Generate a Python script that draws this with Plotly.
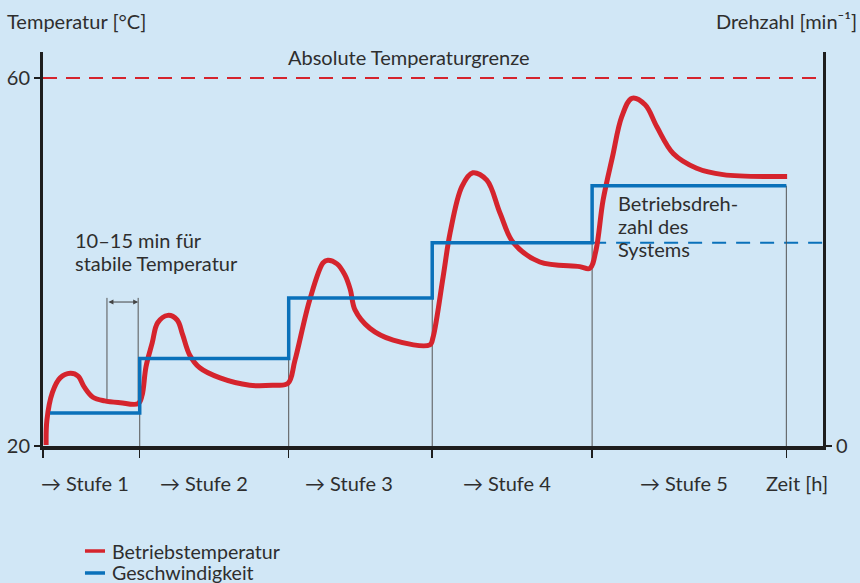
import plotly.graph_objects as go

# --- data (time in arbitrary units 0..100, temperature in °C, speed in arbitrary units) ---
temp_t = [0.4, 0.5, 1.2, 2.2, 3.5, 4.5, 5.3, 6.4, 7.9, 9.9, 12.2,
          12.7, 13.2, 14.0, 14.7, 16.0, 17.2, 17.9, 18.8, 20.1, 22.7, 26.5, 29.5, 31.4,
          32.3, 34.2, 35.9, 36.5, 37.7, 38.7, 39.4, 40.0, 41.9, 44.9, 49.6,
          50.0, 51.3, 52.2, 53.7, 55.1, 56.9, 58.6, 60.3, 63.7, 68.8, 70.1,
          70.9, 71.8, 73.0, 74.2, 75.5, 77.2, 78.7, 80.8, 83.8, 87.2, 95.4]
temp_v = [20.1, 22.8, 25.8, 27.4, 27.9, 27.6, 26.4, 25.3, 24.9, 24.7, 24.6,
          25.5, 28.6, 31.2, 33.4, 34.2, 33.7, 32.1, 29.9, 28.5, 27.4, 26.6, 26.6, 26.8,
          29.3, 35.9, 39.9, 40.2, 39.8, 38.6, 37.0, 34.8, 32.8, 31.5, 31.0,
          31.8, 38.4, 43.2, 48.2, 49.7, 48.9, 45.3, 42.1, 40.0, 39.5, 39.3,
          41.3, 46.7, 51.4, 55.8, 57.8, 57.1, 54.7, 51.8, 50.2, 49.5, 49.3]

stage_t = [0.9, 12.4, 31.5, 49.9, 70.4, 95.3]       # stage start times, last = end
speed_v = [3.6, 9.5, 16.1, 22.1, 28.3]             # speed level per stage
stage_labels = ["→ Stufe 1", "→ Stufe 2", "→ Stufe 3", "→ Stufe 4", "→ Stufe 5"]
stage_label_t = [5.4, 20.6, 39.2, 59.5, 82.2]
series_names = ["Betriebstemperatur", "Geschwindigkeit"]

temp_limit = 60
operating_speed = 22.1

RED = "#d5242d"
BLUE = "#0a71ba"
BG = "#d1e7f6"
TXT = "#2e2e2e"
FONT = "Lato"
FS = 20

fig = go.Figure()

fig.add_trace(go.Scatter(
    x=temp_t, y=temp_v, mode="lines", name=series_names[0],
    line=dict(color=RED, width=5, shape="spline", smoothing=1.0),
))
fig.add_trace(go.Scatter(
    x=stage_t, y=speed_v + [speed_v[-1]], mode="lines", name=series_names[1],
    line=dict(color=BLUE, width=3.5, shape="hv"), yaxis="y2",
))

shapes = []
# temperature limit
shapes.append(dict(type="line", xref="paper", x0=0, x1=1, yref="y", y0=temp_limit, y1=temp_limit,
                   line=dict(color=RED, width=2, dash="14px,9px"), layer="below"))
# operating speed dashed line
shapes.append(dict(type="line", xref="x", x0=stage_t[4], x1=100, yref="y2",
                   y0=operating_speed, y1=operating_speed,
                   line=dict(color=BLUE, width=2, dash="14px,10px"), layer="below"))
# thin vertical lines at stage boundaries
for i in range(1, len(stage_t)):
    shapes.append(dict(type="line", xref="x", x0=stage_t[i], x1=stage_t[i], yref="y2",
                       y0=0, y1=speed_v[i - 1], line=dict(color="#555555", width=1),
                       layer="below"))
# bracket for 10–15 min
for bx, by in [(8.2, 24.9), (12.2, 24.6)]:
    shapes.append(dict(type="line", xref="x", x0=bx, x1=bx, yref="y", y0=by, y1=36.1,
                       line=dict(color="#555555", width=1), layer="below"))

ann = []
def txt(x, y, s, xref="x", yref="y", xanchor="left", size=FS):
    ann.append(dict(x=x, y=y, xref=xref, yref=yref, text=s, showarrow=False,
                    xanchor=xanchor, yanchor="middle", font=dict(family=FONT, size=size, color=TXT)))

txt(-0.049, 1.079, "Temperatur [°C]", "paper", "paper")
txt(1.046, 1.079, "Drehzahl [min⁻¹]", "paper", "paper", xanchor="right")
txt(46.9, 62.28, "Absolute Temperaturgrenze", xanchor="center")
txt(3.9, 42.4, "10–15 min für")
txt(3.9, 39.9, "stabile Temperatur")
txt(73.4, 46.4, "Betriebsdreh-")
txt(73.4, 43.9, "zahl des")
txt(73.4, 41.4, "Systems")
for lx, lab in zip(stage_label_t, stage_labels):
    txt(lx, -0.094, lab, "x", "paper", xanchor="center")
txt(96.7, -0.094, "Zeit [h]", "x", "paper", xanchor="center")

# manual legend (keeps the plot area fixed)
for (ly, col, name) in [(-0.2665, RED, series_names[0]), (-0.3223, BLUE, series_names[1])]:
    shapes.append(dict(type="line", xref="paper", yref="paper", x0=0.0538, x1=0.0795,
                       y0=ly, y1=ly, line=dict(color=col, width=3.5)))
    txt(0.0855, ly, name, "paper", "paper", size=19.6)

# double arrow
ann.append(dict(x=12.2, y=35.65, ax=8.2, ay=35.65, xref="x", yref="y", axref="x", ayref="y",
                text="", showarrow=True, arrowside="end+start", arrowhead=2, arrowsize=1,
                arrowwidth=1, arrowcolor="#444444"))

fig.update_layout(
    width=860, height=583,
    margin=dict(l=43, r=37, t=52, b=137),
    paper_bgcolor=BG, plot_bgcolor=BG,
    font=dict(family=FONT, size=FS, color=TXT),
    showlegend=False,
    shapes=shapes, annotations=ann, hovermode=False,
    xaxis=dict(range=[0, 100], showgrid=False, zeroline=False, showline=True,
               automargin=False,
               linecolor="#1e1e1e", linewidth=3.5,
               tickvals=[0] + stage_t[1:], ticktext=[""] * 6, ticks="outside",
               ticklen=8, tickwidth=1.5, tickcolor="#1e1e1e"),
    yaxis=dict(range=[20, 62.83], showgrid=False, zeroline=False, showline=True,
               automargin=False,
               linecolor="#1e1e1e", linewidth=3, tickvals=[20, 60],
               ticks="outside", ticklen=6, tickwidth=1.5, tickcolor="#1e1e1e",
               tickfont=dict(family=FONT, size=FS, color=TXT)),
    yaxis2=dict(range=[0, 42.83], overlaying="y", side="right", showgrid=False,
                automargin=False,
                zeroline=False, showline=True, linecolor="#1e1e1e", linewidth=3,
                tickvals=[0], ticks="outside", ticklen=6, tickwidth=1.5,
                tickcolor="#1e1e1e", tickfont=dict(family=FONT, size=FS, color=TXT)),
)

fig.write_html("out.html", config={"displayModeBar": False, "staticPlot": True},
               post_script="document.body.style.margin='0';document.body.style.overflow='hidden';")
